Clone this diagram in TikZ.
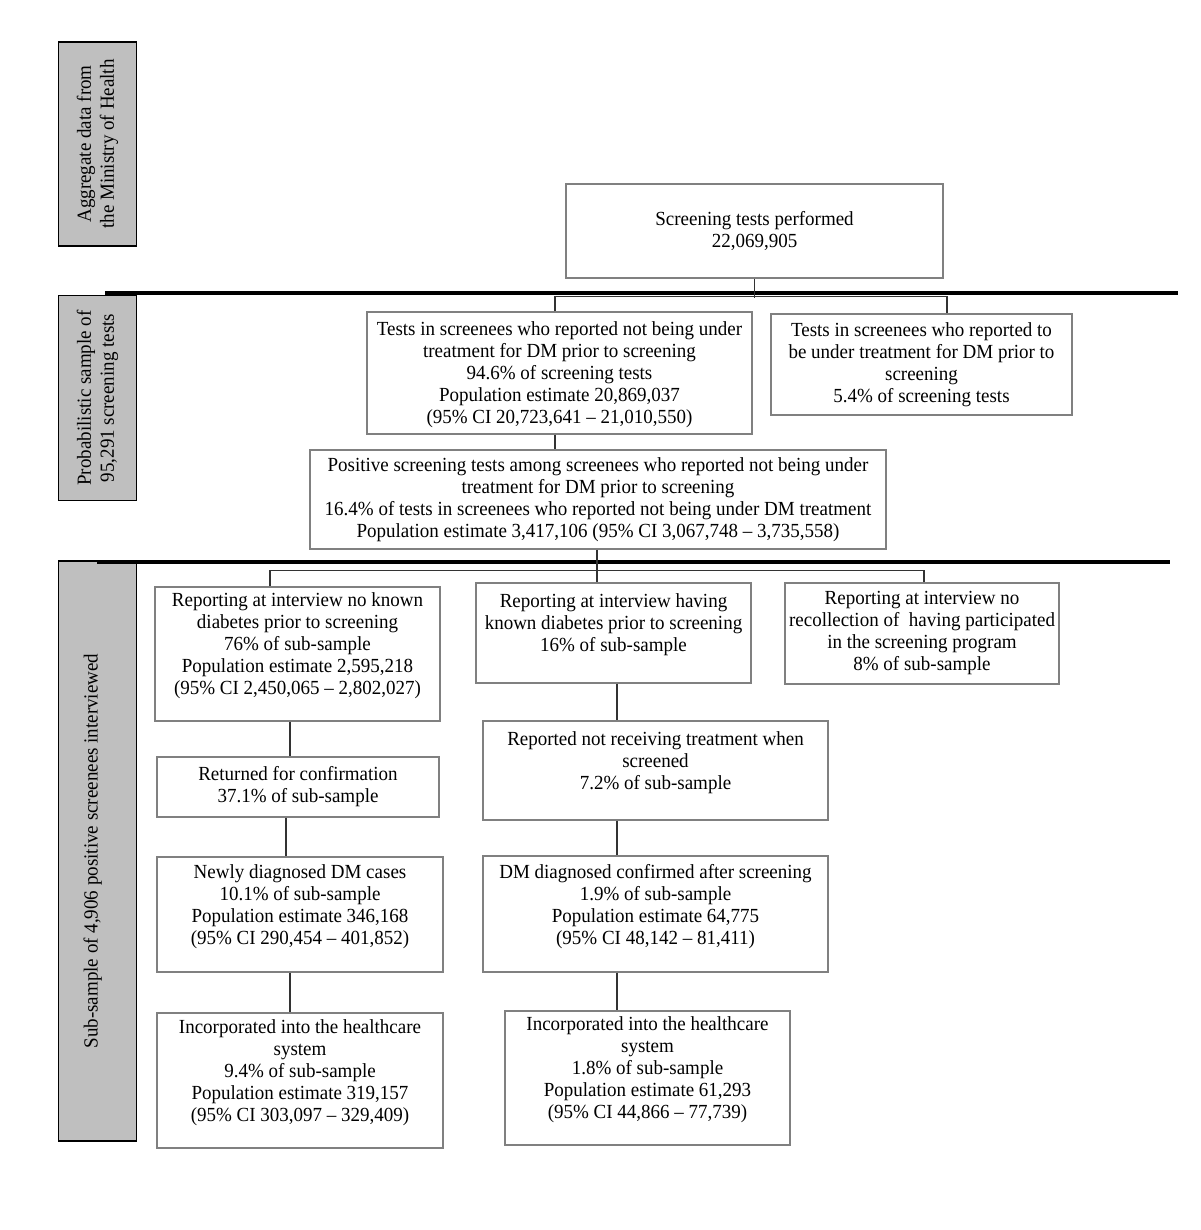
\documentclass[tikz,border=0pt]{standalone}
\usepackage{fontspec}
\setmainfont{Liberation Serif}[FakeStretch=0.95]
\begin{document}
\begin{tikzpicture}[x=1pt,y=-1pt,
  fbox/.style={draw=black!50, line width=1.4pt, inner sep=0pt, align=center,
    font=\fontsize{20}{22}\selectfont},
  gbox/.style={draw=black, fill=black!25, line width=1.4pt, inner sep=0pt, align=center,
    rotate=90, font=\fontsize{20}{23}\selectfont},
  conn/.style={draw=black!80, line width=1.4pt},
  thick line/.style={draw=black, line width=4.5pt},
  txtup/.style={text depth=#1}
]
\useasboundingbox (0,0) rectangle (1200,1230);

% side labels
\node[gbox, minimum width=204, minimum height=78] (g1) at (97.5,144) {Aggregate data from\\the Ministry of Health};
\node[gbox, minimum width=205, minimum height=78] (g2) at (97.5,398) {Probabilistic sample of\\95,291 screening tests};
\node[gbox, minimum width=580, minimum height=78, text depth=14pt] (g3) at (97.5,851) {Sub-sample of 4,906 positive screenees interviewed};

% separator lines
\coordinate (l1a) at (105,293);
\coordinate (l1b) at (1178,293);
\coordinate (l2a) at (97,562);
\coordinate (l2b) at (1170,562);
\draw[thick line] (l1a) -- (l1b);
\draw[thick line] (l2a) -- (l2b);

% boxes
\node[fbox, minimum width=377, minimum height=94] (top) at (754.5,231) {Screening tests performed\\22,069,905};

\node[fbox, minimum width=385, minimum height=122, txtup=0pt] (t1) at (559.5,373) {Tests in screenees who reported not being under\\treatment for DM prior to screening\\94.6\% of screening tests\\Population estimate 20,869,037\\(95\% CI 20,723,641 -- 21,010,550)};
\node[fbox, minimum width=301, minimum height=101] (t2) at (921.5,364.5) {Tests in screenees who reported to\\be under treatment for DM prior to\\screening\\5.4\% of screening tests};

\node[fbox, minimum width=576, minimum height=99] (pos) at (598,499.5) {Positive screening tests among screenees who reported not being under\\treatment for DM prior to screening\\16.4\% of tests in screenees who reported not being under DM treatment\\Population estimate 3,417,106 (95\% CI 3,067,748 -- 3,735,558)};

\node[fbox, minimum width=285, minimum height=134, txtup=20pt] (A) at (297.5,654) {Reporting at interview no known\\diabetes prior to screening\\76\% of sub-sample\\Population estimate 2,595,218\\(95\% CI 2,450,065 -- 2,802,027)};
\node[fbox, minimum width=275, minimum height=100, txtup=20pt] (B) at (613.5,633) {Reporting at interview having\\known diabetes prior to screening\\16\% of sub-sample};
\node[fbox, minimum width=274, minimum height=101] (C) at (922,633.5) {Reporting at interview no\\recollection of \ having participated\\in the screening program\\8\% of sub-sample};

\node[fbox, minimum width=282, minimum height=60] (A2) at (298,787) {Returned for confirmation\\37.1\% of sub-sample};
\node[fbox, minimum width=345, minimum height=99, txtup=20pt] (B2) at (655.5,770.5) {Reported not receiving treatment when\\screened\\7.2\% of sub-sample};

\node[fbox, minimum width=286, minimum height=115, txtup=20pt] (A3) at (300,914.5) {Newly diagnosed DM cases\\10.1\% of sub-sample\\Population estimate 346,168\\(95\% CI 290,454 -- 401,852)};
\node[fbox, minimum width=345, minimum height=116, txtup=20pt] (B3) at (655.5,914) {DM diagnosed confirmed after screening\\1.9\% of sub-sample\\Population estimate 64,775\\(95\% CI 48,142 -- 81,411)};

\node[fbox, minimum width=286, minimum height=135, txtup=20pt] (A4) at (300,1080.5) {Incorporated into the healthcare\\system\\9.4\% of sub-sample\\Population estimate 319,157\\(95\% CI 303,097 -- 329,409)};
\node[fbox, minimum width=285, minimum height=134, txtup=20pt] (B4) at (647.5,1078) {Incorporated into the healthcare\\system\\1.8\% of sub-sample\\Population estimate 61,293\\(95\% CI 44,866 -- 77,739)};

% connectors
\draw[conn] (top.south) -- ++(0,19);
\draw[conn] ([xshift=-4.5]t1.north) -- ++(0,-15) -| ([xshift=25.5]t2.north);
\draw[conn] ([xshift=-4.5]t1.south) -- ([xshift=-4.5]t1.south |- pos.north);

\draw[conn] ([xshift=-1]pos.south) -- ([xshift=-1]pos.south |- B.north);
\draw[conn] ([xshift=-27.5]A.north) -- ++(0,-16) -| ([xshift=2]C.north);

\draw[conn] ([xshift=-7.5]A.south) -- ([xshift=-7.5]A.south |- A2.north);
\draw[conn] ([xshift=-12]A2.south) -- ([xshift=-12]A2.south |- A3.north);
\draw[conn] ([xshift=-10]A3.south) -- ([xshift=-10]A3.south |- A4.north);

\draw[conn] ([xshift=3.5]B.south) -- ([xshift=3.5]B.south |- B2.north);
\draw[conn] ([xshift=-38.5]B2.south) -- ([xshift=-38.5]B2.south |- B3.north);
\draw[conn] ([xshift=-38.5]B3.south) -- ([xshift=-38.5]B3.south |- B4.north);
\end{tikzpicture}
\end{document}
